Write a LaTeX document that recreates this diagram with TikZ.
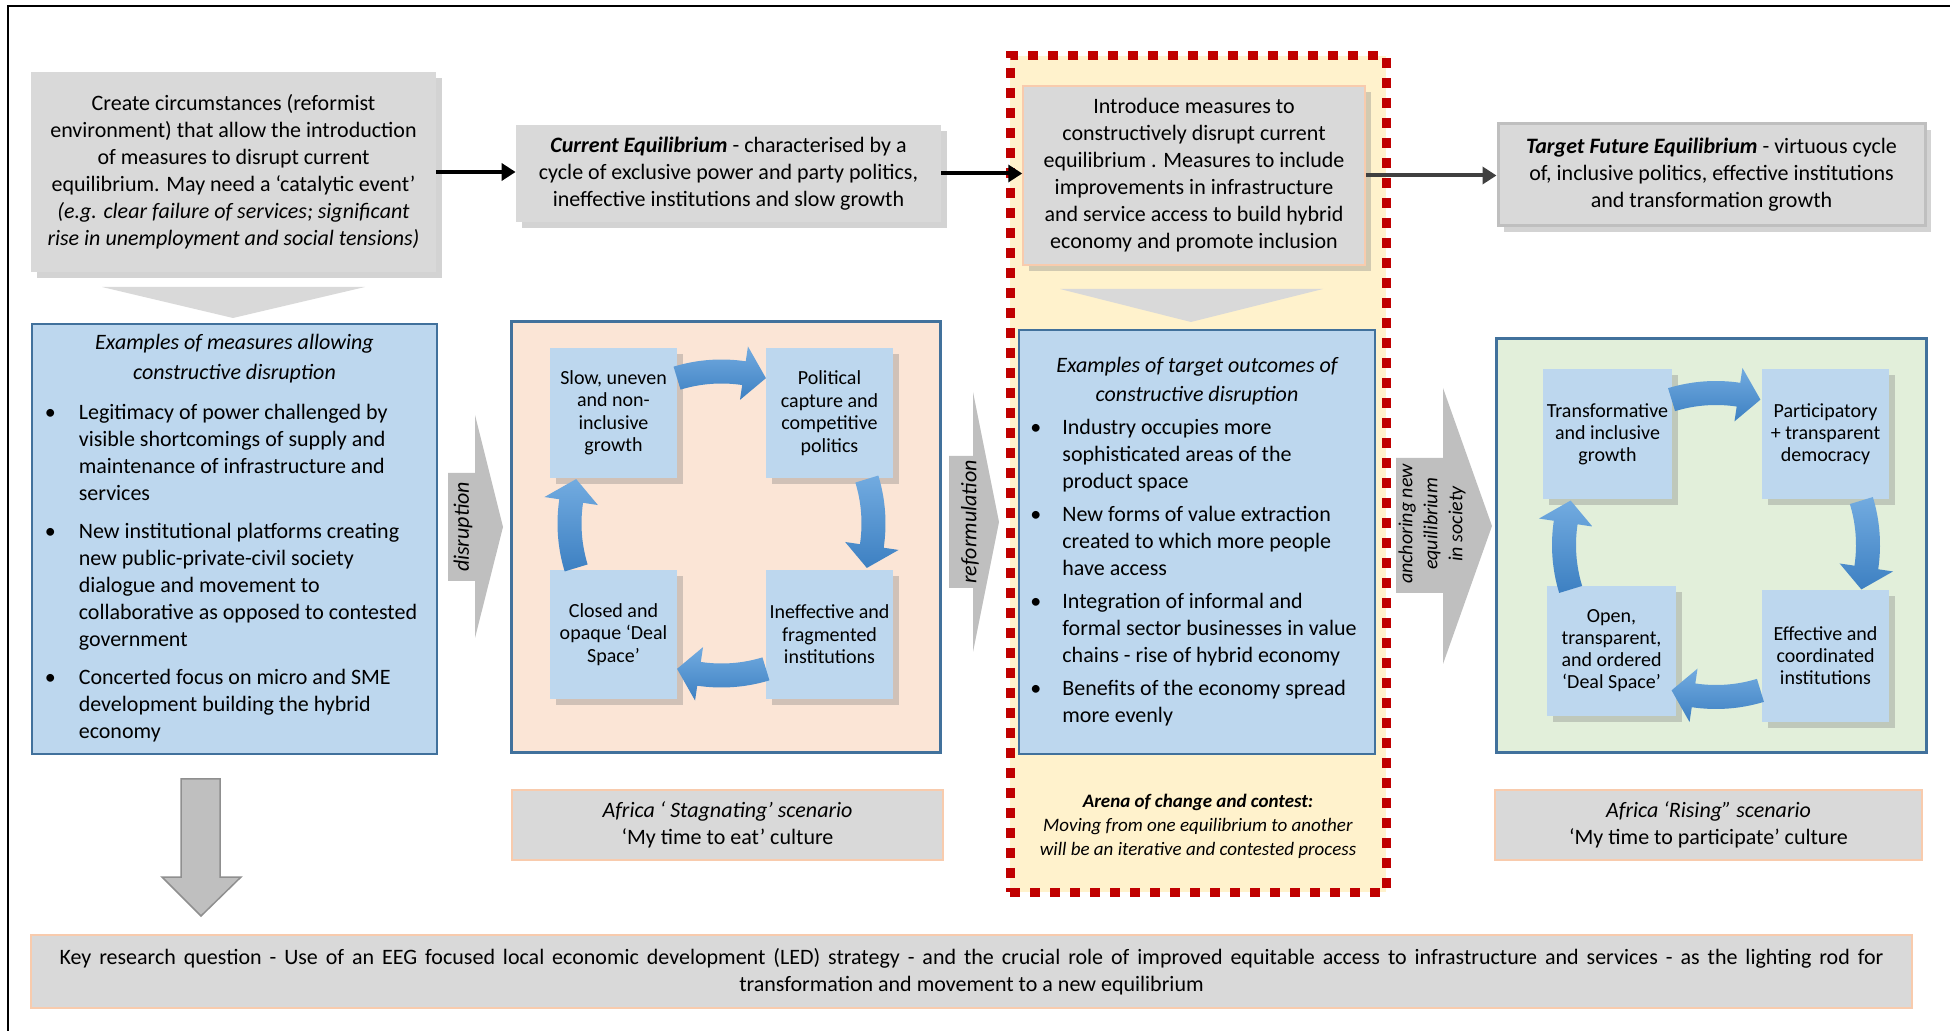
\documentclass[tikz,border=0pt]{standalone}
\usepackage{fontspec}
\setmainfont{Carlito}
\usetikzlibrary{arrows.meta,shadows}

\definecolor{boxgray}{HTML}{D9D9D9}
\definecolor{arrowgray}{HTML}{BFBFBF}
\definecolor{lightblue}{HTML}{BDD7EE}
\definecolor{frameblue}{HTML}{41719C}
\definecolor{peach}{HTML}{FBE5D6}
\definecolor{peachline}{HTML}{F8CBAD}
\definecolor{palegreen}{HTML}{E2EFDA}
\definecolor{paleyellow}{HTML}{FFF2CC}
\definecolor{arenared}{HTML}{C00000}
\definecolor{darkline}{HTML}{404040}
\definecolor{cyclight}{HTML}{72ABE0}
\definecolor{cycdark}{HTML}{3D80C2}

\def\px{0.5pt}
\newcommand{\blt}{\hspace*{-3.5pt}\textbullet}

% curved block arrow of a cycle: centre x, centre y, middle angle
\newcommand{\cycarrow}[3]{%
  \begin{scope}[shift={(#1,#2)}]
    \shade[top color=cyclight, bottom color=cycdark]
      ({#3-17}:140) arc[start angle={#3-17}, end angle={#3+8.5}, radius=140]
      -- ({#3+8.5}:125) -- ({#3+17}:152) -- ({#3+8.5}:179)
      -- ({#3+8.5}:164) arc[start angle={#3+8.5}, end angle={#3-17}, radius=164]
      -- cycle;
  \end{scope}}

\tikzset{
  graybox/.style={fill=boxgray, align=center,
    drop shadow={opacity=0.35, shadow xshift=3pt, shadow yshift=-3pt}},
  bluebox/.style={fill=lightblue, draw=frameblue, line width=1pt},
  panel/.style={draw=frameblue, line width=1.5pt},
  cyclebox/.style={fill=lightblue, align=center,
    font=\fontsize{10}{11.25}\selectfont,
    drop shadow={opacity=0.35, shadow xshift=3pt, shadow yshift=-3pt}},
  scenario/.style={fill=boxgray, draw=peachline, line width=0.75pt, align=center},
  arena/.style={draw=arenared, fill=paleyellow, line width=4.5pt,
    dash pattern=on 5pt off 5pt},
  linkarrow/.style={line width=2pt, -{Triangle[length=7pt,width=8.5pt]}},
  sidelabel/.style={rotate=90, align=center, font=\itshape\fontsize{11}{13.5}\selectfont}
}

\begin{document}
\begin{tikzpicture}[x=0.5pt, y=-0.5pt,
  every node/.style={font=\fontsize{11}{13.5}\selectfont, inner sep=0pt}]

  \useasboundingbox (0,0) rectangle (1950,1031);

  % outer frame
  \draw[line width=1pt] (1950,6) -- (8,6) -- (8,1031);

  % arena of change
  \node[arena, minimum width=376*\px, minimum height=836*\px] (arena) at (1198,474) {};

  % top row
  \node[graybox, minimum width=405*\px, minimum height=200*\px] (create) at (233.5,172)
    {Create circumstances (reformist\\ environment) that allow the introduction\\
     of measures to disrupt current\\ equilibrium.  May need a ‘catalytic event’\\
     \textit{(e.g. clear failure of services; significant}\\
     \textit{rise in unemployment and social tensions)}};
  \node[graybox, minimum width=425*\px, minimum height=97*\px] (curr) at (728.5,173.5)
    {\textbf{\textit{Current  Equilibrium}} - characterised by  a\\
     cycle of  exclusive power and party politics,\\ ineffective institutions and slow growth};
  \node[graybox, draw=peachline, line width=0.75pt, minimum width=342*\px, minimum height=179*\px] (intro) at (1194,175.5)
    {Introduce measures to\\ constructively disrupt current\\ equilibrium . Measures to include\\
     improvements in infrastructure\\ and service access to build hybrid\\ economy and promote inclusion};
  \node[graybox, draw=arrowgray, line width=1.5pt, minimum width=427*\px, minimum height=102*\px] (target) at (1711.5,175)
    {\textbf{\textit{Target  Future  Equilibrium}}  - virtuous cycle\\
     of, inclusive politics, effective institutions\\ and transformation growth};

  \draw[linkarrow] (create.east) -- (create.east -| curr.west);
  \draw[linkarrow] (curr.east) -- (curr.east -| intro.west);
  \draw[linkarrow, darkline] (intro.east) -- (intro.east -| target.west);

  % down chevrons
  \fill[boxgray] (102,287) -- (365,287) -- (233,318) -- cycle;
  \fill[boxgray] (1060,289) -- (1323,289) -- (1191,322) -- cycle;

  % measures
  \node[bluebox, minimum width=405*\px, minimum height=430*\px] (meas) at (234.5,539) {%
    \begin{tabular}{@{}p{13.5pt}@{}l@{}}
      \multicolumn{2}{@{}c@{}}{\itshape Examples of measures allowing}\\[1.5pt]
      \multicolumn{2}{@{}c@{}}{\itshape constructive disruption}\\[6.5pt]
      \blt & Legitimacy of power challenged by\\
           & visible shortcomings of supply and\\
           & maintenance of infrastructure and\\
           & services\\[5.5pt]
      \blt & New institutional platforms creating\\
           & new public-private-civil society\\
           & dialogue and movement to\\
           & collaborative as opposed to contested\\
           & government\\[5.5pt]
      \blt & Concerted focus on micro and SME\\
           & development building the hybrid\\
           & economy
    \end{tabular}};

  % target outcomes
  \node[bluebox, minimum width=356*\px, minimum height=424*\px] (outcomes) at (1197,542) {%
    \begin{tabular}{@{}p{12.5pt}@{}l@{}}
      \multicolumn{2}{@{}c@{}}{\itshape Examples  of target outcomes of}\\[1pt]
      \multicolumn{2}{@{}c@{}}{\itshape constructive disruption}\\[3pt]
      \blt & Industry occupies more\\
           & sophisticated areas of the\\
           & product space\\[3pt]
      \blt & New forms of value extraction\\
           & created to which more people\\
           & have access\\[3pt]
      \blt & Integration of informal and\\
           & formal sector businesses in value\\
           & chains - rise of hybrid economy\\[3pt]
      \blt & Benefits of the economy spread\\
           & more evenly
    \end{tabular}};

  % stagnating cycle
  \node[panel, fill=peach, minimum width=429*\px, minimum height=431*\px] (stagpanel) at (725.5,537.5) {};
  \node[cyclebox, minimum width=127*\px, minimum height=129.5*\px] (slow) at (613.5,413)
    {Slow, uneven\\ and non-\\ inclusive\\ growth};
  \node[cyclebox, minimum width=127*\px, minimum height=129.5*\px] (capture) at (829.5,413)
    {Political\\ capture  and\\ competitive\\ politics};
  \node[cyclebox, minimum width=127*\px, minimum height=129.5*\px] (ineff) at (829.5,634.5)
    {Ineffective and\\ fragmented\\ institutions};
  \node[cyclebox, minimum width=127*\px, minimum height=129.5*\px] (closed) at (613.5,634.5)
    {Closed and\\ opaque ‘Deal\\ Space’};
  \foreach \a in {-90,0,90,180} \cycarrow{721.5}{523.5}{\a};

  % rising cycle
  \node[panel, fill=palegreen, minimum width=430*\px, minimum height=414*\px] (risepanel) at (1711,546) {};
  \node[cyclebox, font=\fontsize{10}{11}\selectfont, minimum width=129*\px, minimum height=130*\px] (transf) at (1607.5,434)
    {Transformative\\ and inclusive\\ growth};
  \node[cyclebox, font=\fontsize{10}{11}\selectfont, minimum width=127*\px, minimum height=130*\px] (partic) at (1825.5,434)
    {Participatory\\ + transparent\\ democracy};
  \node[cyclebox, font=\fontsize{10}{11}\selectfont, minimum width=127*\px, minimum height=132*\px] (effect) at (1825.5,656)
    {Effective and\\ coordinated\\ institutions};
  \node[cyclebox, font=\fontsize{10}{11}\selectfont, minimum width=129*\px, minimum height=130*\px] (open) at (1611.5,651)
    {Open,\\ transparent,\\ and ordered\\ ‘Deal Space’};
  \foreach \a in {-90,0,90,180} \cycarrow{1716}{545}{\a};

  % side arrows
  \fill[arrowgray] (448,473) -- (475,473) -- (475,415) -- (503,527) -- (475,638) -- (475,581) -- (448,581) -- cycle;
  \fill[arrowgray] (949,456) -- (973,456) -- (973,392) -- (999,522) -- (973,652) -- (973,588) -- (949,588) -- cycle;
  \fill[arrowgray] (1396,458) -- (1443,458) -- (1443,388) -- (1492,526) -- (1443,664) -- (1443,593) -- (1396,593) -- cycle;
  \node[sidelabel] (disrupt) at (463,527) {disruption};
  \node[sidelabel] (reform) at (970,522) {reformulation};
  \node[sidelabel, font=\itshape\fontsize{10}{12.5}\selectfont] (anchor) at (1432,524)
    {anchoring new\\ equilibrium\\ in society};

  % scenarios
  \node[scenario, minimum width=431*\px, minimum height=70*\px] (stagscen) at (727.5,825)
    {\textit{Africa ‘ Stagnating’ scenario}\\ ‘My time to eat’ culture};
  \node[scenario, minimum width=427*\px, minimum height=70*\px] (risescen) at (1708.5,825)
    {\textit{Africa ‘Rising” scenario}\\ ‘My time to participate’ culture};
  \node[align=center, font=\fontsize{9.5}{12}\selectfont] (arenatxt) at (1198,826)
    {\textbf{\textit{Arena of change and contest:}}\\
     \textit{Moving from one equilibrium to another}\\
     \textit{will be an iterative and contested process}};

  % key question
  \draw[draw=arrowgray!75!black, fill=arrowgray, line width=0.75pt]
    (181,779) -- (220,779) -- (220,877) -- (241,877) -- (201,916) -- (162,877) -- (181,877) -- cycle;
  \node[scenario, minimum width=1881*\px, minimum height=73*\px] (keyq) at (971.5,971.5)
    {\makebox[912pt][s]{Key research question - Use of an EEG focused local economic development (LED) strategy - and the crucial role of improved equitable access to infrastructure and services - as the lighting rod for}\\
     transformation and movement to a new equilibrium};

\end{tikzpicture}
\end{document}
